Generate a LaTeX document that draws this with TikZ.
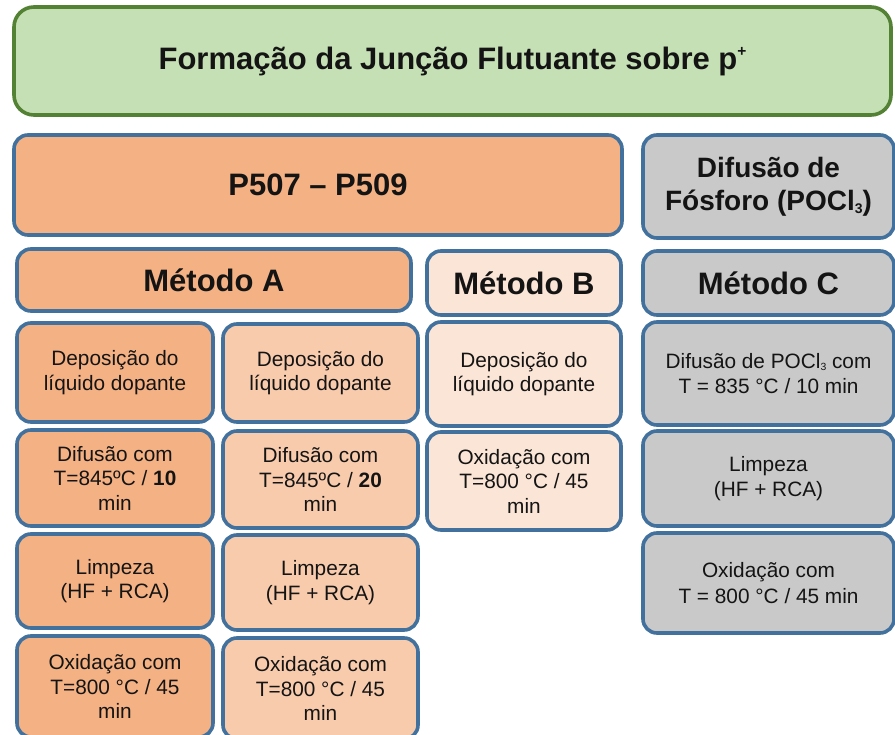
\documentclass[tikz,border=0pt]{standalone}
\usepackage{fontspec}
\usepackage{graphicx}
\setmainfont{Liberation Sans}
\definecolor{gfill}{HTML}{C5E0B4}
\definecolor{gline}{HTML}{548235}
\definecolor{bline}{HTML}{41719C}
\definecolor{odark}{HTML}{F4B183}
\definecolor{omid}{HTML}{F8CBAD}
\definecolor{olight}{HTML}{FBE5D6}
\definecolor{gray1}{HTML}{C9C9C9}
\newcommand{\mysubs}[1]{\raisebox{-0.25ex}{\scalebox{0.5}{#1}}}
\newcommand{\mysups}[1]{\raisebox{0.75ex}{\scalebox{0.5}{#1}}}
\tikzset{
  boxbase/.style={draw=bline, line width=3.6pt, rounded corners=14pt, inner sep=0pt, align=center, text=black!92},
  titlebox/.style={boxbase, draw=gline, fill=gfill, rounded corners=20pt, font=\fontsize{31}{36}\selectfont\bfseries},
  bigA/.style={boxbase, fill=odark, font=\fontsize{31}{36}\selectfont\bfseries},
  bigB/.style={boxbase, fill=olight, font=\fontsize{31}{36}\selectfont\bfseries},
  bigC/.style={boxbase, fill=gray1, font=\fontsize{31}{36}\selectfont\bfseries},
  hdrC/.style={boxbase, fill=gray1, font=\fontsize{28}{33}\selectfont\bfseries},
  smallA/.style={boxbase, fill=odark, font=\fontsize{20.8}{24.5}\selectfont},
  smallM/.style={boxbase, fill=omid, font=\fontsize{20.8}{24.5}\selectfont},
  smallB/.style={boxbase, fill=olight, font=\fontsize{20.8}{24.5}\selectfont},
  smallC/.style={boxbase, fill=gray1, font=\fontsize{20.8}{25.5}\selectfont},
}
\newcommand{\bx}[7]{\node[#6, minimum width={(#4-#2)*1pt}, minimum height={(#5-#3)*1pt}] (#1) at ({(#2+#4)/2},{(#3+#5)/2}) {#7};}
\begin{document}
\begin{tikzpicture}[x=1pt,y=-1pt]
\clip (0,0) rectangle (895,735);
\fill[white] (0,0) rectangle (895,735);
% title
\bx{title}{14}{7}{891}{115}{titlebox}{Formação da Junção Flutuante sobre p\mysups{+}}
% headers
\bx{p507}{14}{135}{622}{235}{bigA}{P507 – P509}
\bx{difP}{643}{135}{894}{238}{hdrC}{Difusão de\\Fósforo (POCl\mysubs{3})}
\bx{metA}{17}{249}{411}{311}{bigA}{Método A}
\bx{metB}{427}{251}{621}{315}{bigB}{Método B}
\bx{metC}{643}{251}{894}{315}{bigC}{Método C}
% column 1
\bx{a1}{17}{323}{213}{422}{smallA}{Deposição do\\líquido dopante}
\bx{a2}{17}{430}{213}{526}{smallA}{Difusão com\\T=845ºC / \textbf{10}\\min}
\bx{a3}{17}{534}{213}{628}{smallA}{Limpeza\\(HF + RCA)}
\bx{a4}{17}{636}{213}{737}{smallA}{Oxidação com\\T=800 °C / 45\\min}
% column 2
\bx{m1}{223}{324}{418}{422}{smallM}{Deposição do\\líquido dopante}
\bx{m2}{223}{431}{418}{528}{smallM}{Difusão com\\T=845ºC / \textbf{20}\\min}
\bx{m3}{223}{535}{418}{630}{smallM}{Limpeza\\(HF + RCA)}
\bx{m4}{223}{638}{418}{739}{smallM}{Oxidação com\\T=800 °C / 45\\min}
% column B
\bx{b1}{427}{322}{621}{426}{smallB}{Deposição do\\líquido dopante}
\bx{b2}{427}{432}{621}{530}{smallB}{Oxidação com\\T=800 °C / 45\\min}
% column C
\bx{c1}{643}{322}{894}{425}{smallC}{Difusão de POCl\mysubs{3} com\\T = 835 °C / 10 min}
\bx{c2}{643}{431}{894}{526}{smallC}{Limpeza\\(HF + RCA)}
\bx{c3}{643}{533}{894}{633}{smallC}{Oxidação com\\T = 800 °C / 45 min}
\end{tikzpicture}
\end{document}
